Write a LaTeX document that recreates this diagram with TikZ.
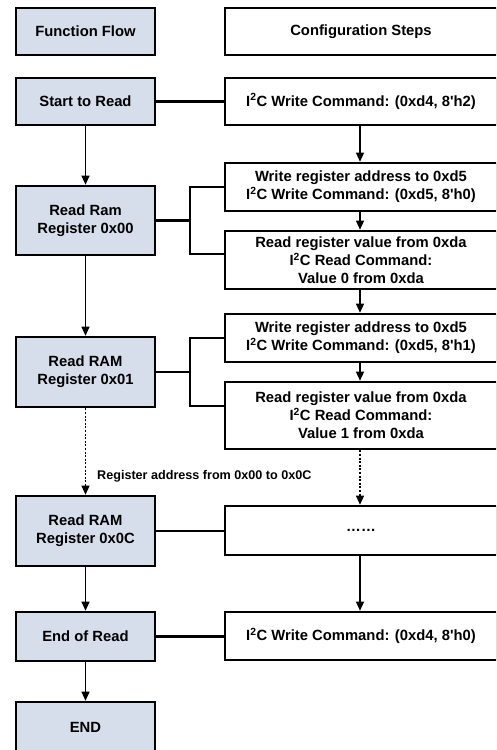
\documentclass[tikz,border=0pt]{standalone}
\usepackage{fontspec}
\setmainfont{Liberation Sans}[Ligatures=TeXOff]
\usetikzlibrary{arrows.meta,calc}
\definecolor{lbox}{HTML}{D5DEEA}
\begin{document}
\begin{tikzpicture}[x=1pt,y=-1pt,
  every node/.style={font=\fontsize{14.8}{18}\selectfont\bfseries, align=center, inner sep=0pt},
  lstep/.style={draw, line width=2.6pt, fill=lbox, minimum width=139pt},
  rstep/.style={draw, line width=2.6pt, fill=white, minimum width=272pt},
  conn/.style={line width=2.6pt},
  arr/.style={line width=1.2pt, -{Triangle[length=9pt,width=8pt]}},
  darr/.style={arr, dash pattern=on 2pt off 1.6pt}]
\clip (0,0) rectangle (496,750);
\fill[white] (0,0) rectangle (496,750);
% left column
\node[lstep, minimum height=47pt] (FF) at (85.5,31.5) {Function Flow};
\node[lstep, minimum height=47pt] (STR) at (85.5,101.5) {Start to Read};
\node[lstep, minimum height=69pt] (R00) at (85.5,220.5) {Read Ram\\Register 0x00};
\node[lstep, minimum height=70pt] (R01) at (85.5,372) {Read RAM\\Register 0x01};
\node[lstep, minimum height=70pt] (R0C) at (85.5,531) {Read RAM\\Register 0x0C};
\node[lstep, minimum height=49pt] (EOR) at (85.5,636.5) {End of Read};
\node[lstep, minimum height=50pt] (END) at (85.5,727) {END};
% right column
\node[rstep, minimum height=47pt] (CS) at (361,31.5) {Configuration Steps};
\node[rstep, minimum height=47pt] (W1) at (361,101.5) {I\textsuperscript{2}C Write Command: (0xd4, 8'h2)};
\node[rstep, minimum height=48pt] (A1) at (361,187) {Write register address to 0xd5\\I\textsuperscript{2}C Write Command: (0xd5, 8'h0)};
\node[rstep, minimum height=58pt] (A2) at (361,260) {Read register value from 0xda\\I\textsuperscript{2}C Read Command:\\Value 0 from 0xda};
\node[rstep, minimum height=48pt] (B1) at (361,338) {Write register address to 0xd5\\I\textsuperscript{2}C Write Command: (0xd5, 8'h1)};
\node[rstep, minimum height=67pt] (B2) at (361,415.5) {Read register value from 0xda\\I\textsuperscript{2}C Read Command:\\Value 1 from 0xda};
\node[rstep, minimum height=49pt] (DOTS) at (361,530.5) {……};
\node[rstep, minimum height=48pt] (W2) at (361,636) {I\textsuperscript{2}C Write Command: (0xd4, 8'h0)};
% label
\node[font=\fontsize{12.6}{14}\selectfont\bfseries, anchor=west] (LBL) at (97,476) {Register address from 0x00 to 0x0C};
% horizontal connectors
\draw[conn] (STR.east) -- (W1.west);
\coordinate (J0a) at (190,220.5);
\coordinate (J0b) at (190,254);
\draw[conn] (R00.east) -- (J0a);
\draw[conn] (A1.west) -| (J0b) -- (A2.west |- J0b);
\coordinate (J1a) at (190,372);
\coordinate (J1b) at (190,406);
\draw[conn] (R01.east) -- (J1a);
\draw[conn] (B1.west) -| (J1b) -- (B2.west |- J1b);
\draw[conn] (R0C.east) -- (DOTS.west |- R0C.east);
\draw[conn] (EOR.east) -- (W2.west |- EOR.east);
% left arrows
\draw[arr] (STR.south) -- (R00.north);
\draw[arr] (R00.south) -- (R01.north);
\draw[darr] (R01.south) -- (R0C.north);
\draw[arr] (R0C.south) -- (EOR.north);
\draw[arr] (EOR.south) -- (END.north);
% right arrows
\coordinate (RX) at (360,0);
\draw[arr] (W1.south -| RX) -- (A1.north -| RX);
\draw[arr] (A1.south -| RX) -- (A2.north -| RX);
\draw[arr] (A2.south -| RX) -- (B1.north -| RX);
\draw[arr] (B1.south -| RX) -- (B2.north -| RX);
\draw[darr] (B2.south -| RX) -- (DOTS.north -| RX);
\draw[arr] (DOTS.south -| RX) -- (W2.north -| RX);
\end{tikzpicture}
\end{document}
